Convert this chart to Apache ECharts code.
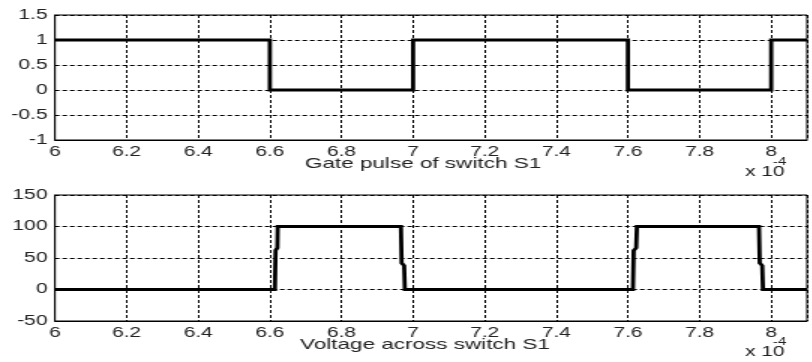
<!DOCTYPE html>
<html>
<head>
<meta charset="utf-8">
<script src="https://cdn.jsdelivr.net/npm/echarts@6/dist/echarts.min.js"></script>
<style>
  html, body { margin: 0; padding: 0; background: #fff; overflow: hidden; }
  #wrap { width: 812px; height: 362px; overflow: hidden; }
  /* the figure is laid out narrow and stretched horizontally */
  #chart { height: 362px; transform-origin: 0 0; }
</style>
</head>
<body>
<div id="wrap"><div id="chart"></div></div>
<script>
// time axis in units of 1e-4 s
var xTicksMin = 6, xTicksMax = 8.1, xStep = 0.2;

// gate pulse of switch S1
var gateTime  = [6, 6.6, 6.6, 7.0, 7.0, 7.6, 7.6, 8.0, 8.0, 8.1];
var gateValue = [1, 1,   0,   0,   1,   1,   0,   0,   1,   1];

// voltage across switch S1
var voltTime  = [6, 6.614, 6.616, 6.621, 6.622, 6.966, 6.968, 6.975, 6.977,
                 7.614, 7.616, 7.623, 7.625, 7.966, 7.968, 7.975, 7.977, 8.1];
var voltValue = [0, 0, 62, 66, 100, 100, 42, 38, 0,
                 0, 62, 66, 100, 100, 42, 38, 0, 0];

var gateTitle = 'Gate pulse of switch S1';
var voltTitle = 'Voltage across switch S1';

var SX = 1.5;                    // horizontal stretch
var W = 812 / SX;
var el = document.getElementById('chart');
el.style.width = W + 'px';
el.style.transform = 'scaleX(' + SX + ')';

function pairs(xs, ys) { return xs.map(function (x, i) { return [x, ys[i]]; }); }

var font = 'Liberation Sans, Arial, sans-serif';
var txtColor = '#222';
var gridLine = { show: true, lineStyle: { color: '#000', width: 1, type: [3, 2] } };

function xAxis(gi) {
  return {
    type: 'value', gridIndex: gi, min: xTicksMin, max: xTicksMax, interval: xStep,
    axisLine: { show: true, onZero: false, lineStyle: { color: '#000', width: 1 } },
    axisTick: { show: false },
    splitLine: gridLine,
    axisLabel: {
      color: txtColor, fontFamily: font, fontSize: 14, margin: 5,
      formatter: function (v) {
        if (Math.abs(v / xStep - Math.round(v / xStep)) > 1e-6 || v > 8.05) return '';
        return String(+v.toFixed(1));
      }
    }
  };
}
function yAxis(gi, mn, mx, step) {
  return {
    type: 'value', gridIndex: gi, min: mn, max: mx, interval: step,
    axisLine: { show: true, lineStyle: { color: '#000', width: 1 } },
    axisTick: { show: false },
    splitLine: gridLine,
    axisLabel: { color: txtColor, fontFamily: font, fontSize: 14, margin: 5 }
  };
}

var chart = echarts.init(el, null, { renderer: 'canvas' });
var leftPx = 55 / SX, rightPx = 1 / SX;
chart.setOption({
  animation: false,
  backgroundColor: '#fff',
  grid: [
    { left: leftPx, right: rightPx, top: 15, height: 125, show: true, borderColor: '#000', borderWidth: 1, backgroundColor: 'transparent' },
    { left: leftPx, right: rightPx, top: 195, height: 126, show: true, borderColor: '#000', borderWidth: 1, backgroundColor: 'transparent' }
  ],
  xAxis: [xAxis(0), xAxis(1)],
  yAxis: [yAxis(0, -1, 1.5, 0.5), yAxis(1, -50, 150, 50)],
  series: [
    { type: 'line', xAxisIndex: 0, yAxisIndex: 0, data: pairs(gateTime, gateValue),
      showSymbol: false, lineStyle: { color: '#000', width: 2.8, join: 'miter' } },
    { type: 'line', xAxisIndex: 1, yAxisIndex: 1, data: pairs(voltTime, voltValue),
      showSymbol: false, lineStyle: { color: '#000', width: 2.8, join: 'miter' } }
  ],
  graphic: [
    { type: 'text', x: 423 / SX, y: 164, style: { text: gateTitle, fill: txtColor, font: '15px ' + font, align: 'center', verticalAlign: 'middle' } },
    { type: 'text', x: 425 / SX, y: 345, style: { text: voltTitle, fill: txtColor, font: '15px ' + font, align: 'center', verticalAlign: 'middle' } },
    { type: 'text', x: 745 / SX, y: 172, style: { text: 'x 10', fill: txtColor, font: '14px ' + font, align: 'left', verticalAlign: 'middle' } },
    { type: 'text', x: 773 / SX, y: 162, style: { text: '-4', fill: txtColor, font: '10px ' + font, align: 'left', verticalAlign: 'middle' } },
    { type: 'text', x: 745 / SX, y: 352, style: { text: 'x 10', fill: txtColor, font: '14px ' + font, align: 'left', verticalAlign: 'middle' } },
    { type: 'text', x: 773 / SX, y: 342, style: { text: '-4', fill: txtColor, font: '10px ' + font, align: 'left', verticalAlign: 'middle' } }
  ]
});
</script>
</body>
</html>
